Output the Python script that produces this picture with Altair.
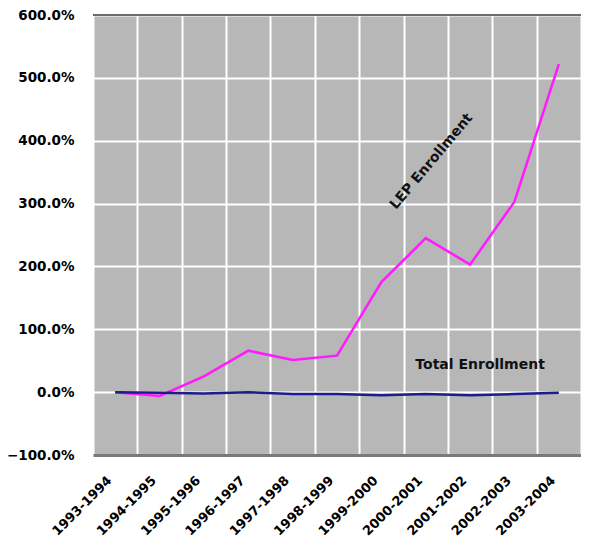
import altair as alt
import pandas as pd

years = ["1993-1994", "1994-1995", "1995-1996", "1996-1997", "1997-1998", "1998-1999",
         "1999-2000", "2000-2001", "2001-2002", "2002-2003", "2003-2004"]
lep = [0, -6, 25, 66, 51, 58, 175, 245, 203, 303, 522]
total = [0, -1, -2, 0, -3, -3, -5, -3, -5, -3, -1]
y_ticks = [-100, 0, 100, 200, 300, 400, 500, 600]

labels = [
    {"x": "2000-2001", "y": 356, "text": "LEP Enrollment", "angle": 310},
    {"x": "2001-2002", "y": 43, "text": "Total Enrollment", "angle": 0},
]

rows = []
for yr, v in zip(years, lep):
    rows.append({"year": yr, "value": v, "series": "LEP Enrollment"})
for yr, v in zip(years, total):
    rows.append({"year": yr, "value": v, "series": "Total Enrollment"})
df = pd.DataFrame(rows)

FONT = "DejaVu Sans"
x_scale = alt.Scale(type="band", domain=years, paddingInner=0, paddingOuter=0)

x_enc = alt.X(
    "year:O",
    sort=years,
    scale=x_scale,
    axis=alt.Axis(
        title=None,
        labelAngle=-45,
        labelAlign="right",
        labelBaseline="middle",
        labelFont=FONT,
        labelFontWeight="bold",
        labelFontSize=13,
        labelColor="#000000",
        labelPadding=23,
        labelOffset=-6,
        ticks=False,
        tickBand="extent",
        grid=True,
        gridColor="#ffffff",
        gridWidth=2,
        domain=True,
        domainColor="#7a7a7a",
        domainWidth=3,
    ),
)
y_scale = alt.Scale(domain=[-100, 600], nice=False, zero=False)
y_enc = alt.Y(
    "value:Q",
    scale=y_scale,
    axis=alt.Axis(
        title=None,
        values=y_ticks,
        labelExpr="format(datum.value, '.1f') + '%'",
        labelFont=FONT,
        labelFontWeight="bold",
        labelFontSize=13.5,
        labelColor="#000000",
        labelPadding=19,
        ticks=False,
        grid=True,
        gridColor="#ffffff",
        gridWidth=2,
        domain=False,
    ),
)

lines = alt.Chart(df).mark_line(strokeWidth=2.5).encode(
    x=x_enc,
    y=y_enc,
    color=alt.Color(
        "series:N",
        scale=alt.Scale(domain=["LEP Enrollment", "Total Enrollment"], range=["#ff1aff", "#1c1c8c"]),
        legend=None,
    ),
    order=alt.Order("series:N"),
)

top_rule = alt.Chart(pd.DataFrame({"v": [600]})).mark_rule(color="#3a3a3a", strokeWidth=1.5).encode(
    y=alt.Y("v:Q", scale=y_scale)
)

ann_df = pd.DataFrame(labels)
ann_lep = alt.Chart(ann_df[ann_df.angle == 310]).mark_text(
    font=FONT, fontWeight="bold", fontSize=14, color="#111111", angle=310, dx=9
).encode(
    x=alt.X("x:O", sort=years, scale=x_scale),
    y=alt.Y("y:Q", scale=y_scale),
    text="text:N",
)
ann_tot = alt.Chart(ann_df[ann_df.angle == 0]).mark_text(
    font=FONT, fontWeight="bold", fontSize=14, color="#111111", dx=10
).encode(
    x=alt.X("x:O", sort=years, scale=x_scale),
    y=alt.Y("y:Q", scale=y_scale),
    text="text:N",
)

chart = alt.layer(top_rule, lines, ann_lep, ann_tot).properties(
    width=488,
    height=440,
    autosize="none",
    padding={"left": 85, "top": 7, "right": 0, "bottom": 87},
    background="#ffffff",
).configure_view(fill="#b7b7b7", stroke=None)

chart.save("out.html", embed_options={"renderer": "svg", "actions": False})
